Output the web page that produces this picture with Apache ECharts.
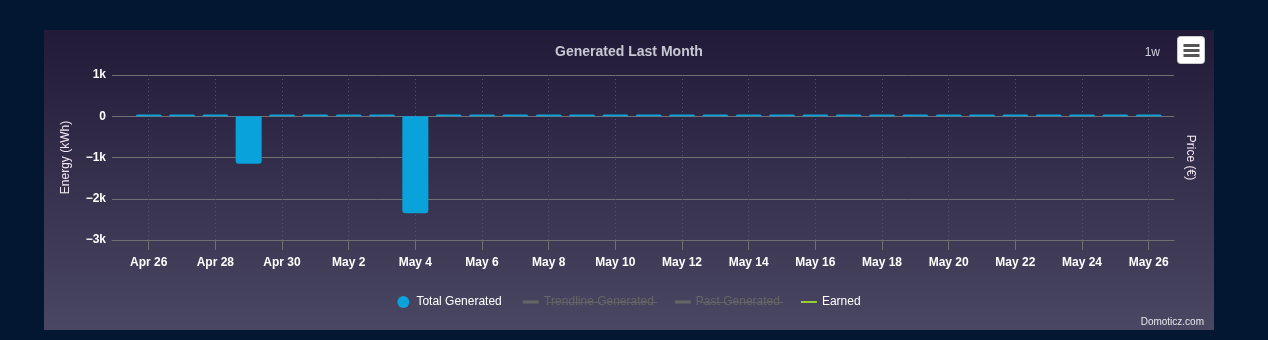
<!DOCTYPE html>
<html><head><meta charset="utf-8">
<script src="https://cdn.jsdelivr.net/npm/echarts@6/dist/echarts.min.js"></script>
<style>
html,body{margin:0;padding:0;background:#031733;width:1268px;height:340px;overflow:hidden}
#c{position:absolute;left:44px;top:30px;width:1170px;height:300px}
</style></head><body><div id="c"></div>
<script>
const dates = ["Apr 26","Apr 27","Apr 28","Apr 29","Apr 30","May 1","May 2","May 3","May 4","May 5","May 6","May 7","May 8","May 9","May 10","May 11","May 12","May 13","May 14","May 15","May 16","May 17","May 18","May 19","May 20","May 21","May 22","May 23","May 24","May 25","May 26"];
const totalGenerated = [40,40,40,-1150,40,40,40,40,-2350,40,40,40,40,40,40,40,40,40,40,40,40,40,40,40,40,40,40,40,40,40,40];
const trendlineGenerated = [];
const pastGenerated = [];
const earned = [];
const xTickLabels = ["Apr 26","Apr 28","Apr 30","May 2","May 4","May 6","May 8","May 10","May 12","May 14","May 16","May 18","May 20","May 22","May 24","May 26"];
const seriesNames = ["Total Generated","Trendline Generated","Past Generated","Earned"];

const FONT = 'Liberation Sans, Arial, sans-serif';
const tickIdx = xTickLabels.map(l => dates.indexOf(l));
const strike = s => s.split('').map(c => c + '\u0336').join('');
const ICON3 = 'path://M0,0M0,4.5h16v3h-16zM16,12';
const ICON2 = 'path://M0,0M0,5h16v2h-16zM16,12';
const chart = echarts.init(document.getElementById('c'));
chart.setOption({
  animation: false,
  backgroundColor: new echarts.graphic.LinearGradient(0,0,0,1,[{offset:0,color:'#211a38'},{offset:1,color:'#4a4762'}]),
  title: {text:'Generated Last Month', left:'center', top:10,
    textStyle:{color:'#c8c8d4', fontSize:14, fontWeight:'bold', fontFamily:FONT}},
  grid: {left:68, right:40, top:45, bottom:90, containLabel:false},
  legend: {
    top:261, left:'center', itemWidth:16, itemHeight:12, itemGap:21,
    inactiveColor:'#666', inactiveBorderColor:'#666',
    textStyle:{color:'#fff', fontSize:12, fontFamily:FONT},
    formatter: n => (n===seriesNames[1]||n===seriesNames[2]) ? strike(n) : n,
    data:[{name:seriesNames[0], icon:'circle'}, {name:seriesNames[1], icon:ICON3},
          {name:seriesNames[2], icon:ICON3}, {name:seriesNames[3], icon:ICON2}],
    selected:{[seriesNames[1]]:false,[seriesNames[2]]:false}
  },
  xAxis: {
    type:'value', min:-1.1, max:30.76,
    axisLine:{show:true, onZero:false, lineStyle:{color:'#707070'}},
    axisTick:{show:true, customValues:tickIdx, length:10, lineStyle:{color:'#707070'}},
    axisLabel:{customValues:tickIdx, formatter:v=>dates[v], color:'#fff', fontWeight:'bold', fontSize:12, margin:17, fontFamily:FONT},
    splitLine:{show:true, lineStyle:{color:'#57536e', type:[1,3]}}
  },
  yAxis: [{
    type:'value', min:-3000, max:1000, interval:1000,
    name:'Energy (kWh)', nameLocation:'middle', nameGap:40, nameRotate:90,
    nameTextStyle:{color:'#f3e8f3', fontSize:12, fontFamily:FONT},
    axisLine:{show:false}, axisTick:{show:false},
    axisLabel:{color:'#fff', fontSize:12, fontWeight:'bold', margin:6, fontFamily:FONT,
      formatter:v=> v===0?'0':(v<0?'\u2212':'')+Math.abs(v/1000)+'k'},
    splitLine:{show:true, lineStyle:{color:'#707070', width:1}}
  },{
    type:'value', position:'right',
    name:'Price (€)', nameLocation:'middle', nameGap:10, nameRotate:-90,
    nameTextStyle:{color:'#f3e8f3', fontSize:12, fontFamily:FONT},
    axisLine:{show:false}, axisTick:{show:false}, axisLabel:{show:false}, splitLine:{show:false}
  }],
  series: [
    {name:seriesNames[0], type:'bar', barWidth:26, itemStyle:{color:'#0aa2db'},
     data: totalGenerated.map((v,i)=>({value:[i,v], itemStyle:{borderRadius: v<0?[0,0,3,3]:[3,3,0,0]}}))},
    {name:seriesNames[1], type:'line', symbol:'none', itemStyle:{color:'#777'}, lineStyle:{width:3, color:'#777'},
     data: trendlineGenerated},
    {name:seriesNames[2], type:'line', symbol:'none', itemStyle:{color:'#777'}, lineStyle:{width:3, color:'#777'},
     data: pastGenerated},
    {name:seriesNames[3], type:'line', yAxisIndex:1, symbol:'none', itemStyle:{color:'#9acd32'}, lineStyle:{width:2, color:'#9acd32'},
     data: earned}
  ],
  graphic: [
    {type:'text', right:54, top:17, style:{text:'1w', fill:'#d0d0dc', font:'12px '+FONT}},
    {type:'group', left:1133, top:6, children:[
      {type:'rect', shape:{x:0,y:0,width:27,height:27,r:3}, style:{fill:'#fff', stroke:'#ccc', lineWidth:1}},
      {type:'rect', shape:{x:6,y:7.5,width:16,height:3}, style:{fill:'#555'}},
      {type:'rect', shape:{x:6,y:12.5,width:16,height:3}, style:{fill:'#555'}},
      {type:'rect', shape:{x:6,y:17.5,width:16,height:3}, style:{fill:'#555'}}
    ]},
    {type:'text', right:10, top:287, style:{text:'Domoticz.com', fill:'#e6e6ee', font:'10px '+FONT}}
  ]
});
</script></body></html>
